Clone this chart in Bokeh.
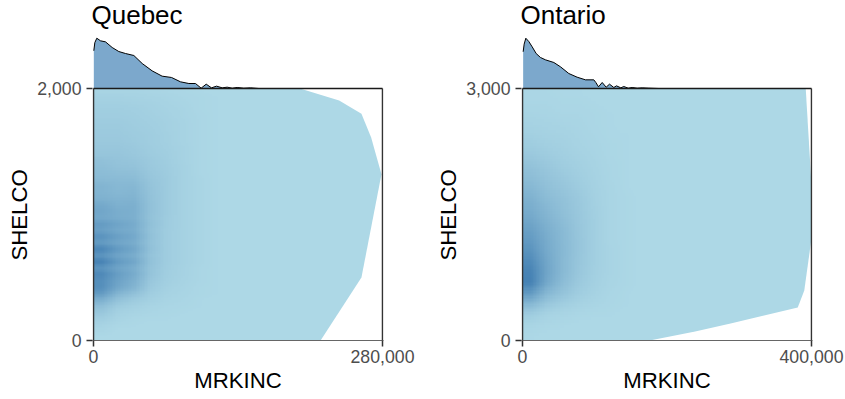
import numpy as np
from bokeh.embed import file_html
from bokeh.layouts import row
from bokeh.models import (FixedTicker, LinearAxis, LinearColorMapper,
                          NumeralTickFormatter, Range1d, Title)
from bokeh.plotting import figure
from bokeh.resources import INLINE

# ---- Quebec ----
QC_TITLE = "Quebec"
QC_XMAX = 280000
QC_YMAX = 2000
QC_HULL_X = [0, 220000, 259600, 279000, 269000, 259600, 238000, 200000, 0]
QC_HULL_Y = [0, 0, 500, 1320, 1611, 1800, 1905, 2000, 2000]
QC_MARG_X = [300, 1300, 3200, 6800, 11600, 18100, 24500, 31000, 39100, 47200, 56800, 66500, 75600, 84300,
             92400, 98800, 104300, 109200, 114300, 119200, 124700, 129500, 134400, 139200, 145600, 152100, 160200]
QC_MARG_D = [.74, .90, .986, .935, .915, .804, .725, .686, .647, .49, .346, .242, .216, .131,
             .098, .098, .007, .085, .013, .046, .013, .026, .007, .02, .007, .013, 0]
QC_CELL_W = 15500
# density, top row first, percent of the darkest shade
QC_DENSITY = [
    [5, 5, 5, 4, 3, 2, 1, 0, 0, 0],
    [8, 8, 7, 6, 5, 3, 2, 1, 0, 0],
    [10, 10, 9, 8, 6, 4, 2, 1, 0, 0],
    [12, 12, 11, 9, 7, 5, 2, 1, 0, 0],
    [13, 13, 12, 10, 8, 5, 3, 1, 0, 0],
    [15, 15, 13, 11, 9, 6, 3, 1, 0, 0],
    [16, 16, 14, 12, 9, 6, 3, 1, 0, 0],
    [17, 17, 15, 13, 10, 6, 3, 1, 0, 0],
    [18, 18, 16, 13, 10, 6, 3, 1, 0, 0],
    [20, 20, 18, 14, 11, 7, 3, 1, 0, 0],
    [22, 22, 19, 15, 12, 7, 3, 1, 0, 0],
    [27, 24, 22, 17, 13, 7, 3, 1, 0, 0],
    [30, 26, 25, 18, 14, 8, 3, 1, 0, 0],
    [32, 30, 29, 20, 15, 8, 3, 1, 0, 0],
    [35, 34, 33, 22, 16, 8, 4, 1, 0, 0],
    [42, 37, 38, 24, 16, 8, 4, 1, 0, 0],
    [42, 38, 40, 25, 16, 8, 4, 1, 0, 0],
    [45, 42, 43, 26, 16, 8, 4, 1, 0, 0],
    [55, 46, 47, 27, 16, 8, 4, 1, 0, 0],
    [58, 50, 48, 27, 16, 8, 4, 1, 0, 0],
    [55, 50, 47, 26, 15, 8, 4, 1, 0, 0],
    [70, 60, 52, 28, 15, 8, 4, 1, 0, 0],
    [65, 55, 50, 26, 14, 8, 4, 1, 0, 0],
    [80, 65, 55, 28, 14, 8, 4, 1, 0, 0],
    [70, 58, 50, 26, 14, 8, 4, 1, 0, 0],
    [95, 72, 58, 28, 14, 8, 4, 1, 0, 0],
    [78, 60, 50, 25, 14, 8, 4, 1, 0, 0],
    [100, 72, 58, 27, 14, 8, 4, 1, 0, 0],
    [78, 60, 48, 24, 13, 7, 3, 1, 0, 0],
    [92, 68, 52, 24, 12, 7, 3, 1, 0, 0],
    [85, 62, 46, 20, 11, 6, 3, 1, 0, 0],
    [85, 58, 42, 17, 9, 5, 2, 1, 0, 0],
    [72, 42, 28, 13, 7, 4, 2, 1, 0, 0],
    [48, 26, 16, 9, 5, 3, 1, 0, 0, 0],
    [30, 15, 9, 5, 3, 2, 1, 0, 0, 0],
    [20, 8, 5, 3, 2, 1, 0, 0, 0, 0],
    [12, 5, 2, 1, 1, 0, 0, 0, 0, 0],
    [6, 2, 1, 0, 0, 0, 0, 0, 0, 0],
    [3, 0, 0, 0, 0, 0, 0, 0, 0, 0],
    [0, 0, 0, 0, 0, 0, 0, 0, 0, 0],
]

# ---- Ontario ----
ON_TITLE = "Ontario"
ON_XMAX = 400000
ON_YMAX = 3000
ON_HULL_X = [0, 176000, 239000, 288000, 381000, 390000, 400000, 400000, 392000, 0]
ON_HULL_Y = [0, 0, 107, 202, 393, 595, 1214, 1845, 3000, 3000]
ON_MARG_X = [900, 2300, 4600, 8800, 13400, 18900, 24900, 31800, 43400, 52600, 64100, 75600, 87200, 98700,
             101500, 105200, 110300, 115800, 120400, 126400, 130100, 136100, 140200, 146300, 151800, 158700,
             165700, 174800, 188600]
ON_MARG_D = [.72, .87, .986, .92, .817, .686, .608, .562, .51, .425, .294, .222, .17, .17,
             .118, .033, .118, .026, .085, .02, .052, .013, .039, .007, .02, .007,
             .013, .007, 0]
ON_CELL_W = 22000
ON_DENSITY = [
    [2, 2, 1, 1, 0, 0, 0, 0],
    [3, 3, 2, 2, 1, 0, 0, 0],
    [5, 4, 3, 3, 2, 1, 0, 0],
    [7, 6, 5, 4, 2, 1, 0, 0],
    [10, 8, 7, 5, 3, 1, 1, 0],
    [14, 11, 9, 6, 4, 2, 1, 0],
    [19, 15, 11, 8, 5, 2, 1, 0],
    [26, 20, 14, 10, 6, 3, 1, 0],
    [31, 24, 18, 12, 7, 3, 1, 0],
    [38, 28, 22, 15, 8, 4, 1, 0],
    [45, 33, 26, 18, 9, 4, 2, 0],
    [50, 38, 28, 19, 10, 4, 2, 0],
    [57, 43, 31, 20, 11, 4, 2, 0],
    [65, 48, 35, 21, 11, 4, 2, 0],
    [72, 52, 36, 22, 11, 4, 2, 0],
    [80, 54, 37, 22, 11, 5, 2, 0],
    [90, 58, 36, 21, 11, 5, 2, 0],
    [98, 60, 36, 20, 10, 5, 2, 0],
    [100, 56, 32, 17, 9, 4, 2, 0],
    [72, 38, 24, 13, 7, 3, 1, 0],
    [38, 20, 12, 7, 4, 2, 1, 0],
    [14, 6, 4, 2, 1, 1, 0, 0],
    [4, 2, 1, 0, 0, 0, 0, 0],
    [1, 0, 0, 0, 0, 0, 0, 0],
]

X_LABEL = "MRKINC"
Y_LABEL = "SHELCO"
FONT = "Liberation Sans"
LIGHT = (173, 216, 230)
DARK = (70, 130, 180)
MARG_FILL = "#7CA8CC"
FRAME = "#333333"
TICK_TEXT = "#4D4D4D"

FRAME_W, FRAME_H = 289, 252
ABOVE = 58        # px of frame above the top of the panel box (holds the marginal)
MARG_PX = 51      # px per unit of relative density

palette = ["#%02x%02x%02x" % tuple(round(a + (b - a) * i / 255) for a, b in zip(LIGHT, DARK)) for i in range(256)]


def smooth(grid, fx=10, fy=4):
    """Raster the read cells the way the reference's raster is shown: blended between neighbours."""
    g = np.asarray(grid, dtype=float)
    ny, nx = g.shape
    xs, ys = (np.arange(nx * fx) + .5) / fx - .5, (np.arange(ny * fy) + .5) / fy - .5
    a = np.array([np.interp(xs, np.arange(nx), r) for r in g])
    return np.array([np.interp(ys, np.arange(ny), c) for c in a.T]).T


def panel(title, xmax, ymax, hull_x, hull_y, marg_x, marg_d, density, cell_w, left, right):
    pad = xmax / FRAME_W
    p = figure(width=left + FRAME_W + right, height=30 + ABOVE + FRAME_H + 50,
               frame_width=FRAME_W + 2, frame_height=FRAME_H + ABOVE,
               min_border_left=left - 1, min_border_right=right - 1, min_border_top=0, min_border_bottom=50,
               x_range=Range1d(-pad, xmax + pad), y_range=Range1d(0, ymax * (FRAME_H + ABOVE) / FRAME_H),
               x_axis_location=None, y_axis_location=None,
               output_backend="svg", toolbar_location=None, title=title)
    p.title.text_font = FONT
    p.title.text_font_size = "26px"
    p.title.text_font_style = "normal"
    p.title.text_color = "black"
    p.title.vertical_align = "top"
    p.title.offset = -1
    p.title.standoff = -2
    p.outline_line_color = None
    p.grid.visible = False
    p.background_fill_color = None
    p.border_fill_color = None
    p.extra_y_ranges = {"marg": Range1d(-FRAME_H / MARG_PX, ABOVE / MARG_PX)}

    p.patch(hull_x, hull_y, fill_color="#ADD8E6", line_color=None)
    grid = smooth(density)[::-1]
    p.image(image=[grid], x=0, y=0, dw=cell_w * len(density[0]), dh=ymax,
            color_mapper=LinearColorMapper(palette=palette, low=0, high=100))

    p.patch([marg_x[0]] + marg_x + [marg_x[-1]], [0] + marg_d + [0],
            fill_color=MARG_FILL, line_color=None, y_range_name="marg")
    p.line(marg_x, marg_d, line_color="black", line_width=1, y_range_name="marg")

    p.line([0, 0], [0, ymax], line_color=FRAME, line_width=1.5)
    p.line([xmax, xmax], [0, ymax], line_color=FRAME, line_width=1.5)
    p.line([0, xmax], [ymax, ymax], line_color="#1a1a1a", line_width=1.5)

    xa = LinearAxis(ticker=FixedTicker(ticks=[0, xmax]), axis_label=X_LABEL)
    ya = LinearAxis(ticker=FixedTicker(ticks=[0, ymax]))
    for a in (xa, ya):
        a.formatter = NumeralTickFormatter(format="0,0")
        a.major_tick_out = 6
        a.major_tick_in = 0
        a.minor_tick_out = 0
        a.minor_tick_in = 0
        a.major_tick_line_color = FRAME
        a.major_tick_line_width = 1.5
        a.major_label_text_font = FONT
        a.major_label_text_font_size = "17.7px"
        a.major_label_text_color = TICK_TEXT
    xa.major_label_standoff = 3
    ya.major_label_standoff = 5
    xa.axis_line_color = "#666666"
    xa.axis_line_width = 1.2
    ya.axis_line_color = None
    xa.major_label_orientation = "horizontal"
    ya.major_label_orientation = "horizontal"
    xa.axis_label_text_font = FONT
    xa.axis_label_text_font_size = "22.2px"
    xa.axis_label_text_font_style = "normal"
    xa.axis_label_text_color = "black"
    xa.axis_label_standoff = 2
    p.add_layout(xa, "below")
    p.add_layout(ya, "left")

    p.add_layout(Title(text=Y_LABEL, align="left", offset=80, standoff=6, text_font=FONT,
                       text_font_size="22.2px", text_font_style="normal", text_color="black"), "left")
    return p


left = panel(QC_TITLE, QC_XMAX, QC_YMAX, QC_HULL_X, QC_HULL_Y, QC_MARG_X, QC_MARG_D,
             QC_DENSITY, QC_CELL_W, 93, 46)
right = panel(ON_TITLE, ON_XMAX, ON_YMAX, ON_HULL_X, ON_HULL_Y, ON_MARG_X, ON_MARG_D,
              ON_DENSITY, ON_CELL_W, 94, 34)
page = row(left, right, spacing=0)
open("out.html", "w").write(file_html(page, INLINE))
